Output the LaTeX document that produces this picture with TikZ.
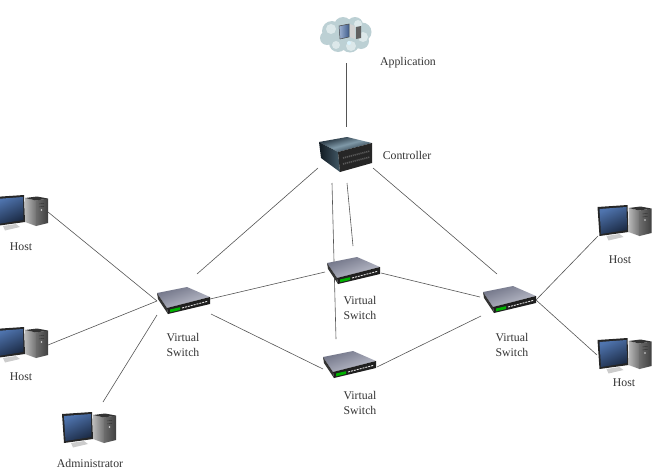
\documentclass[tikz,border=0pt]{standalone}
\usepackage{fontspec}
\setmainfont{Liberation Serif}
\usetikzlibrary{calc}
\definecolor{linkgray}{HTML}{555555}
\definecolor{textgray}{HTML}{333333}
\definecolor{screenblue}{HTML}{4F74AE}
\definecolor{screendark}{HTML}{1B2A44}
\definecolor{cloudblue}{HTML}{BCD0D4}
\definecolor{cloudpale}{HTML}{DCE8EA}
\definecolor{serverblue}{HTML}{5F7F92}
\definecolor{serverdark}{HTML}{16232E}
\definecolor{switchtop}{HTML}{8C90A8}
\definecolor{switchpale}{HTML}{C4C6D2}
\tikzset{
  anchorbox/.style={inner sep=0pt, minimum width=#1, minimum height=30pt},
  link/.style={draw=linkgray, line width=0.6pt},
  caption/.style={font=\fontsize{11.8}{15}\selectfont, text=textgray, align=center, inner sep=0pt},
  pcicon/.pic={
    % monitor
    \fill[black!85] (0,2) -- (30,0) -- (31,27) -- (2,31) -- cycle;
    \shade[left color=screenblue, right color=screendark, shading angle=25]
      (2,4) -- (29,2) -- (29.5,25) -- (3.5,29) -- cycle;
    \fill[white!60!gray] (9,31) -- (22,29) -- (26,32) -- (11,35.5) -- cycle;
    % tower
    \shade[left color=gray!55, right color=gray!90!black] (31,3) -- (42,5.5) -- (42,31) -- (31,27) -- cycle;
    \shade[left color=gray!85!black, right color=black!75] (42,5.5) -- (54,3.5) -- (54,28) -- (42,31) -- cycle;
    \fill[black!80] (31,3) -- (43,1.5) -- (54,3.5) -- (42,5.5) -- cycle;
    \fill[white!70!gray] (47.5,15) circle (0.8);
    \draw[black!80, line width=0.4pt] (45,9) -- (50,8.3) (45,12) -- (50,11.3);
  },
  switchicon/.pic={
    % body faces
    \shade[left color=switchtop!80!black, right color=switchpale, shading angle=20]
      (-26,-7) -- (4,-13) -- (27,-3) -- (-16,8) -- cycle;
    \fill[black!60!gray] (-26,-7) -- (-16,8) -- (-15,14) -- (-25,-1) -- cycle;
    \fill[black!88] (-16,8) -- (27,-3) -- (27,4) -- (-15,14) -- cycle;
    % status lights and ports
    \fill[green!70!black] (-13,9.5) -- (-3,7.2) -- (-3,10) -- (-13,12.3) -- cycle;
    \draw[white!80!gray, line width=0.9pt, dash pattern=on 2pt off 1pt]
      (-1,8) -- (25,1.2);
  },
  servericon/.pic={
    \shade[left color=serverdark, right color=serverdark, middle color=serverblue!80!white, shading angle=15]
      (1,-18) -- (-27,-13) -- (-8,-3) -- (26,-12) -- cycle;
    \shade[left color=serverdark!70!black, right color=serverblue!70!black]
      (-27,-13) -- (-8,-3) -- (-6,17) -- (-25,3) -- cycle;
    \fill[black!85] (-8,-3) -- (26,-12) -- (26,8) -- (-6,17) -- cycle;
    \draw[gray!70!black, line width=1.6pt, dash pattern=on 1.2pt off 0.8pt]
      (-3,3) -- (24,-4) (-3,9) -- (24,2);
  },
  cloudicon/.pic={
    \fill[cloudblue] (-14,-4) circle (10) (-3,-9) circle (9) (9,-10) circle (8)
      (16,-3) circle (9.5) (15,6) circle (8) (4,8) circle (9.5) (-8,8) circle (9)
      (-19,3) circle (7) (0,0) circle (12);
    \fill[cloudpale] (-15,-6) circle (5) (12,-11) circle (4) (17,2) circle (5)
      (-10,10) circle (4) (5,11) circle (5);
    \shade[left color=screenblue!55!white, right color=screenblue!80!black]
      (-7,-9) -- (3,-11) -- (3,2) -- (-6,4) -- cycle;
    \draw[gray!60!black, line width=0.5pt] (-7,-9) -- (3,-11) -- (3,2) -- (-6,4) -- cycle;
    \fill[gray!35!white] (4,-11) -- (9,-9) -- (9,4) -- (4,2) -- cycle;
    \fill[gray!75!black] (10,-8) -- (15,-9) -- (15,3) -- (10,4) -- cycle;
    \fill[white!85!cyan] (3,8) circle (2);
  },
}
\begin{document}
\begin{tikzpicture}[x=1pt,y=-1pt]
  \useasboundingbox (0,0) rectangle (653,469);
  \clip (0,0) rectangle (653,469);
  % reference points for each device
  \node[anchorbox=54pt] (cloud) at (346,35) {};
  \node[anchorbox=54pt] (ctrl) at (346,155) {};
  \node[anchorbox=54pt] (swl) at (183,300) {};
  \node[anchorbox=54pt] (swt) at (353,270) {};
  \node[anchorbox=54pt] (swb) at (349,364) {};
  \node[anchorbox=54pt] (swr) at (509,299) {};
  \node[anchorbox=54pt] (hl1) at (21,210) {};
  \node[anchorbox=54pt] (hl2) at (21,342) {};
  \node[anchorbox=54pt] (adm) at (89,427) {};
  \node[anchorbox=54pt] (hr1) at (624.5,220) {};
  \node[anchorbox=54pt] (hr2) at (624.5,353) {};
  % links between devices
  \draw[link] ($(cloud)+(0,28)$) -- ($(ctrl)+(0,-28)$);
  \draw[link] ($(ctrl)+(-28,13)$) -- ($(swl)+(14,-26)$);
  \draw[link] ($(ctrl)+(27,13)$) -- ($(swr)+(-12,-25)$);
  \draw[link] ($(ctrl)+(1,28)$) -- ($(swt)+(0,-24)$);
  \draw[link] ($(ctrl)+(-14,28)$) -- ($(swb)+(-13,-25)$);
  \draw[link] ($(hl1)+(27,2)$) -- ($(swl)+(-26,1)$);
  \draw[link] ($(hl2)+(27,3)$) -- ($(swl)+(-26,1)$);
  \draw[link] ($(adm)+(14,-25)$) -- ($(swl)+(-26,15)$);
  \draw[link] ($(swl)+(27,-1)$) -- ($(swt)+(-28,2)$);
  \draw[link] ($(swl)+(28,14)$) -- ($(swb)+(-26,5)$);
  \draw[link] ($(swt)+(28,3)$) -- ($(swr)+(-29,-2)$);
  \draw[link] ($(swb)+(28,3)$) -- ($(swr)+(-28,17)$);
  \draw[link] ($(swr)+(27,1)$) -- ($(hr1)+(-26.5,16)$);
  \draw[link] ($(swr)+(27,1)$) -- ($(hr2)+(-27.5,2)$);
  % device icons
  \pic at (cloud) {cloudicon};
  \pic at (ctrl) {servericon};
  \pic at (swl) {switchicon};
  \pic at (swt) {switchicon};
  \pic at (swb) {switchicon};
  \pic at (swr) {switchicon};
  \pic at (-6,195) {pcicon};
  \pic at (-6,327) {pcicon};
  \pic at (62,412) {pcicon};
  \pic at (597.5,205) {pcicon};
  \pic at (597.5,338) {pcicon};
  % captions
  \node[caption] (tapp) at (408,63) {Application};
  \node[caption] (tctrl) at (407,155) {Controller};
  \node[caption] (thl1) at (21,247) {Host};
  \node[caption] (thl2) at (21,377) {Host};
  \node[caption] (tadm) at (90,463) {Administrator};
  \node[caption] (tswl) at (183,345) {Virtual\\Switch};
  \node[caption] (tswt) at (360,308) {Virtual\\Switch};
  \node[caption] (tswb) at (360,403) {Virtual\\Switch};
  \node[caption] (tswr) at (512,345) {Virtual\\Switch};
  \node[caption] (thr1) at (620,260) {Host};
  \node[caption] (thr2) at (624,383) {Host};
\end{tikzpicture}
\end{document}
